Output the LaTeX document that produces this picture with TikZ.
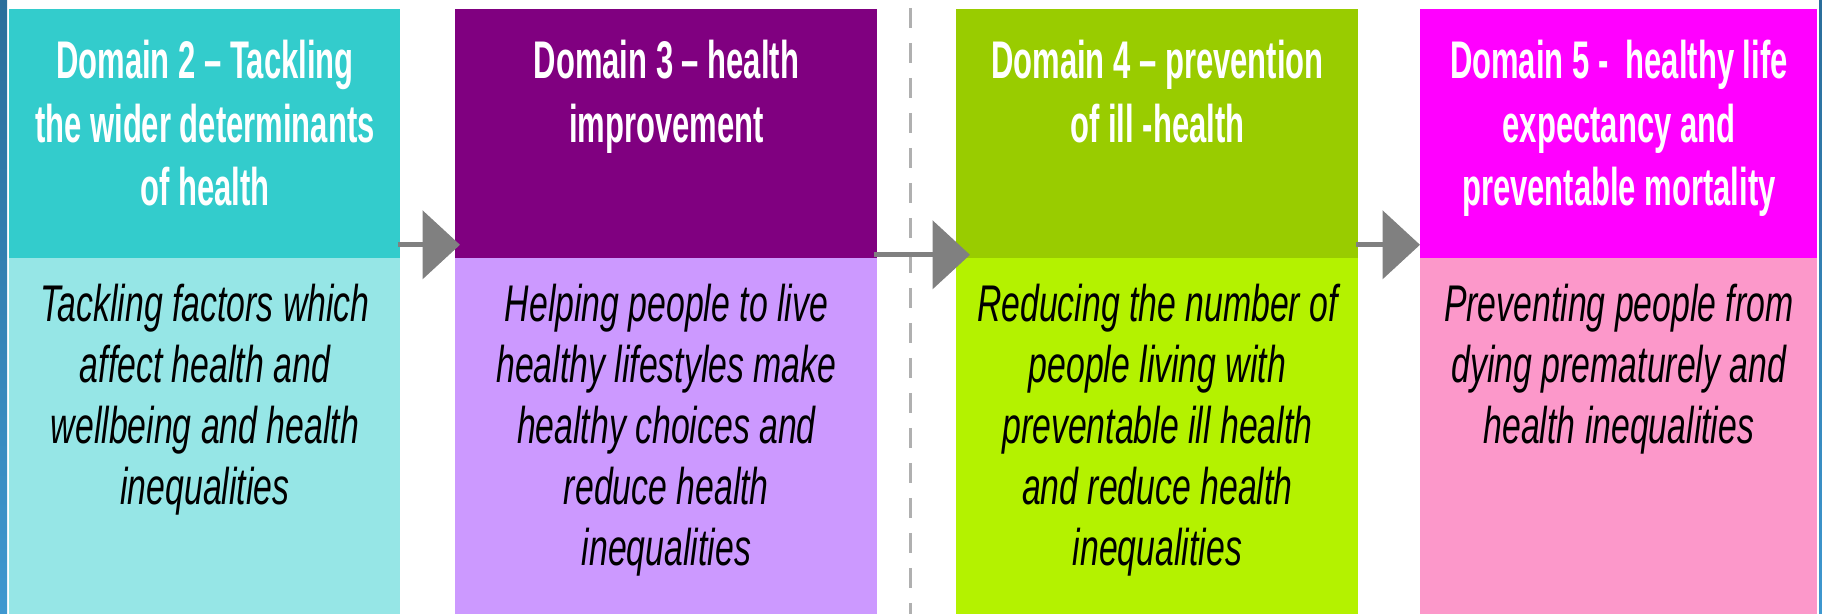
\documentclass[tikz,border=0pt]{standalone}
\usepackage{fontspec}
\setmainfont{Liberation Sans}
\newfontfamily\headfont{Liberation Sans}[FakeStretch=0.585]
\newfontfamily\bodyfont{Liberation Sans}[FakeStretch=0.655]
\usetikzlibrary{arrows.meta}

\definecolor{tealhead}{HTML}{33CCCC}
\definecolor{tealbody}{HTML}{96E6E6}
\definecolor{plumhead}{HTML}{800080}
\definecolor{plumbody}{HTML}{CC99FF}
\definecolor{limehead}{HTML}{99CC00}
\definecolor{limebody}{HTML}{B4F200}
\definecolor{pinkhead}{HTML}{FF00FF}
\definecolor{pinkbody}{HTML}{FC98CA}
\definecolor{edgetop}{HTML}{2A6E9B}
\definecolor{edgebot}{HTML}{3E98D0}
\definecolor{arrowgray}{HTML}{808080}
\definecolor{cutgray}{HTML}{B0B0B0}

\begin{document}
\begin{tikzpicture}[x=0.5pt,y=-0.5pt,
    headbox/.style={rectangle, anchor=north west, inner sep=0pt, minimum height=124.5pt},
    bodybox/.style={rectangle, anchor=north west, inner sep=0pt, minimum height=178pt},
    headtext/.style={anchor=north, inner sep=0pt, align=center, text=white,
      font=\headfont\bfseries\fontsize{26.5}{31.75}\selectfont},
    bodytext/.style={anchor=north, inner sep=0pt, align=center,
      font=\bodyfont\itshape\fontsize{25.8}{30.5}\selectfont},
    flow/.style={draw=arrowgray, line width=2.5pt, -{Triangle[length=18.75pt,width=34pt]}}]

        \useasboundingbox (0,0) rectangle (1822,614);

        \shade[top color=edgetop, bottom color=edgebot] (0,0) rectangle (7,614);
        \shade[top color=edgetop, bottom color=edgebot] (1819,0) rectangle (1822,614);

        \begin{scope}[every node/.style={headbox}]
          \node[fill=tealhead, minimum width=195.5pt] (h2) at (9,9) {};
          \node[fill=plumhead, minimum width=211pt]   (h3) at (455,9) {};
          \node[fill=limehead, minimum width=201pt]   (h4) at (956,9) {};
          \node[fill=pinkhead, minimum width=198.5pt] (h5) at (1420,9) {};
        \end{scope}

        \begin{scope}[every node/.style={bodybox}]
          \node[fill=tealbody, minimum width=195.5pt] (b2) at (9,258) {};
          \node[fill=plumbody, minimum width=211pt]   (b3) at (455,258) {};
          \node[fill=limebody, minimum width=201pt]   (b4) at (956,258) {};
          \node[fill=pinkbody, minimum width=198.5pt] (b5) at (1420,258) {};
        \end{scope}

        \node[headtext] (t2) at ([yshift=-15.5pt]h2.north) {Domain 2 – Tackling\\the wider determinants\\of health};
        \node[headtext] (t3) at ([yshift=-15.5pt]h3.north) {Domain 3 – health\\improvement};
        \node[headtext] (t4) at ([yshift=-15.5pt]h4.north) {Domain 4 – prevention\\of ill -health};
        \node[headtext] (t5) at ([yshift=-15.5pt]h5.north) {Domain 5 - ~healthy life\\expectancy and\\preventable mortality};

        \node[bodytext] (d2) at ([yshift=-13pt]b2.north) {Tackling factors which\\affect health and\\wellbeing and health\\inequalities};
        \node[bodytext] (d3) at ([yshift=-13pt]b3.north) {Helping people to live\\healthy lifestyles make\\healthy choices and\\reduce health\\inequalities};
        \node[bodytext] (d4) at ([yshift=-13pt]b4.north) {Reducing the number of\\people living with\\preventable ill health\\and reduce health\\inequalities};
        \node[bodytext] (d5) at ([yshift=-13pt]b5.north) {Preventing people from\\dying prematurely and\\health inequalities};

        \coordinate (cut top) at (910,8);
        \coordinate (cut bot) at (910,614);
        \draw[cutgray, line width=1.5pt, dash pattern=on 10pt off 7.5pt] (cut top) -- (cut bot);

        \path ([xshift=-1.5pt,yshift=7pt]h2.south east) edge[flow] ([xshift=2.5pt,yshift=7pt]h3.south west);
        \path ([xshift=-2pt,yshift=2pt]h3.south east) edge[flow] ([xshift=7pt,yshift=2pt]h4.south west);
        \path ([xshift=-1.5pt,yshift=7pt]h4.south east) edge[flow] ([yshift=7pt]h5.south west);

      \end{tikzpicture}
\end{document}
